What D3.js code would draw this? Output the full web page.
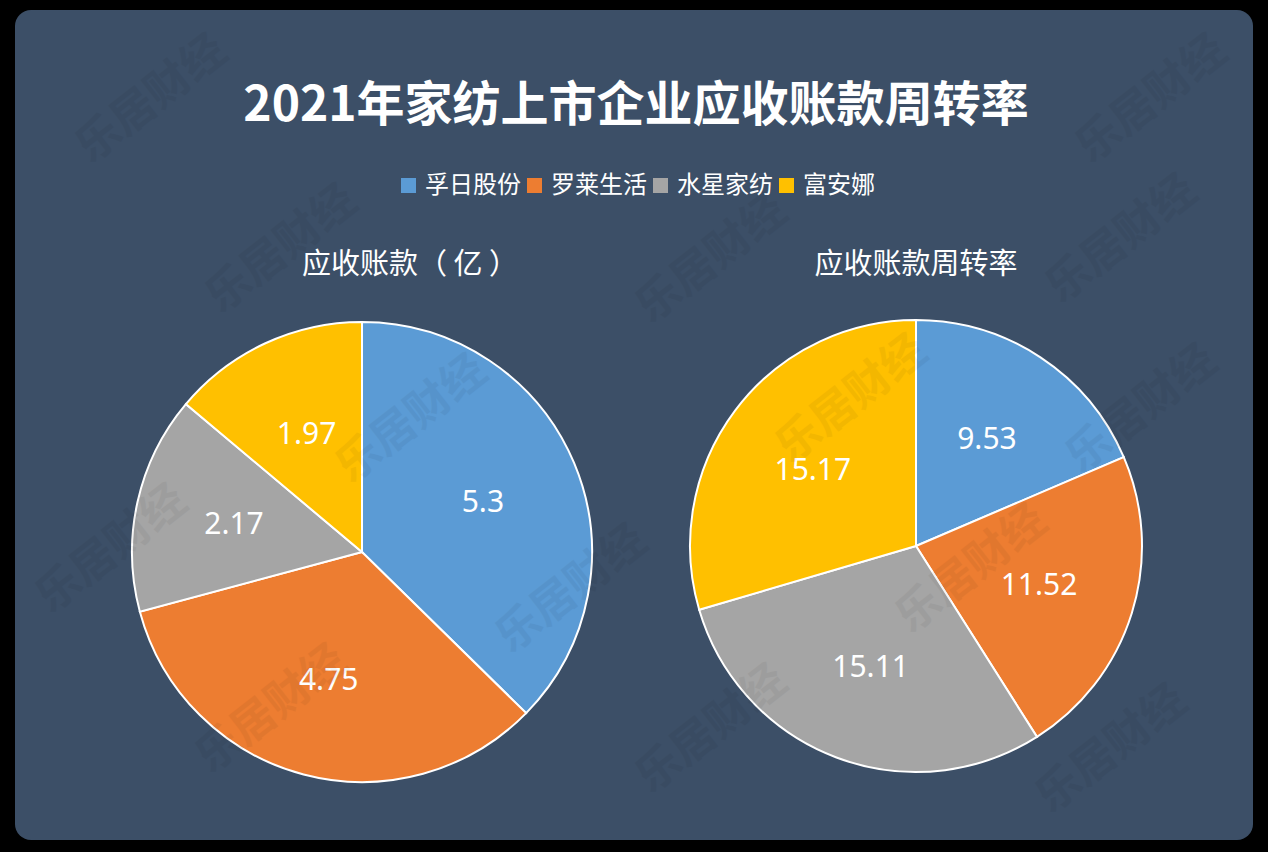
<!DOCTYPE html>
<html>
<head>
<meta charset="utf-8">
<script src="https://cdn.jsdelivr.net/npm/d3@7"></script>
<style>
  body { margin: 0; background: #000; }
  svg { display: block; }
  text { font-family: "Noto Sans CJK SC", "Noto Sans", sans-serif; }
</style>
</head>
<body>
<div id="plot"></div>
<script>
// data
const companies = ["孚日股份", "罗莱生活", "水星家纺", "富安娜"];
const receivables = [5.3, 4.75, 2.17, 1.97];      // 应收账款（亿）
const turnover = [9.53, 11.52, 15.11, 15.17];     // 应收账款周转率
const colors = ["#5b9bd5", "#ed7d31", "#a5a5a5", "#ffc000"];
const chartTitle = "2021年家纺上市企业应收账款周转率";
const pieTitles = ["应收账款（ 亿 ）", "应收账款周转率"];

const width = 1268, height = 852;

const svg = d3.select("div#plot")
  .append("svg")
  .attr("width", width)
  .attr("height", height);

// panel
svg.append("rect")
  .attr("x", 15).attr("y", 10)
  .attr("width", 1238).attr("height", 830)
  .attr("rx", 16)
  .attr("fill", "#3c4f67");

// watermark spots (faint, drawn last)
const wmSpots = [[160, 110], [1160, 110], [290, 260], [720, 270], [1130, 250],
                 [420, 430], [860, 410], [1150, 420], [120, 560], [580, 600],
                 [980, 580], [280, 720], [720, 740], [1120, 760]];

// title
svg.append("text")
  .attr("x", 636)
  .attr("y", 121)
  .attr("text-anchor", "middle")
  .style("font-size", "48px")
  .style("font-weight", "bold")
  .style("fill", "#fff")
  .text(chartTitle);

// legend
const color = d3.scaleOrdinal().domain(companies).range(colors);
const legend = svg.append("g");
let lx = 0;
companies.forEach(c => {
  const g = legend.append("g").attr("transform", `translate(${lx},0)`);
  g.append("rect")
    .attr("x", 0).attr("y", -8)
    .attr("width", 15).attr("height", 15)
    .attr("fill", color(c));
  const t = g.append("text")
    .attr("x", 24).attr("y", 7)
    .style("font-size", "24px")
    .style("fill", "#fff")
    .text(c);
  lx += 24 + t.node().getComputedTextLength() + 6;
});
legend.attr("transform", `translate(${641 - lx / 2},186)`);

// pies
const pie = d3.pie().sort(null).value(d => d.value).startAngle(0).endAngle(2 * Math.PI);

function drawPie(values, cx, cy, r, title, tx) {
  const data = companies.map((c, i) => ({name: c, value: values[i]}));
  const g = svg.append("g").attr("transform", `translate(${cx},${cy})`);
  const arc = d3.arc().innerRadius(0).outerRadius(r);
  const labelArc = d3.arc().innerRadius(r * 0.57).outerRadius(r * 0.57);

  g.selectAll("path")
    .data(pie(data))
    .join("path")
      .attr("d", arc)
      .attr("fill", d => color(d.data.name))
      .attr("stroke", "#fff")
      .attr("stroke-width", 2);

  g.selectAll("text.lbl")
    .data(pie(data))
    .join("text")
      .attr("class", "lbl")
      .attr("transform", d => `translate(${labelArc.centroid(d)})`)
      .attr("text-anchor", "middle")
      .attr("dy", "0.36em")
      .style("font-family", "'Noto Sans', sans-serif")
      .style("font-size", "30px")
      .style("fill", "#fff")
      .text(d => d.data.value);

  svg.append("text")
    .attr("x", tx)
    .attr("y", 274)
    .attr("text-anchor", "middle")
    .style("font-size", "29px")
    .style("fill", "#fff")
    .text(title);
}

drawPie(receivables, 362, 552, 230, pieTitles[0], 410);
drawPie(turnover, 916, 546, 226, pieTitles[1], 916);

// watermark
svg.append("g")
  .attr("pointer-events", "none")
  .selectAll("text")
  .data(wmSpots)
  .join("text")
    .attr("transform", d => `translate(${d[0]},${d[1]}) rotate(-38)`)
    .attr("text-anchor", "middle")
    .style("font-size", "44px")
    .style("font-weight", "bold")
    .style("fill", "#000")
    .style("opacity", 0.045)
    .text("乐居财经");
</script>
</body>
</html>
